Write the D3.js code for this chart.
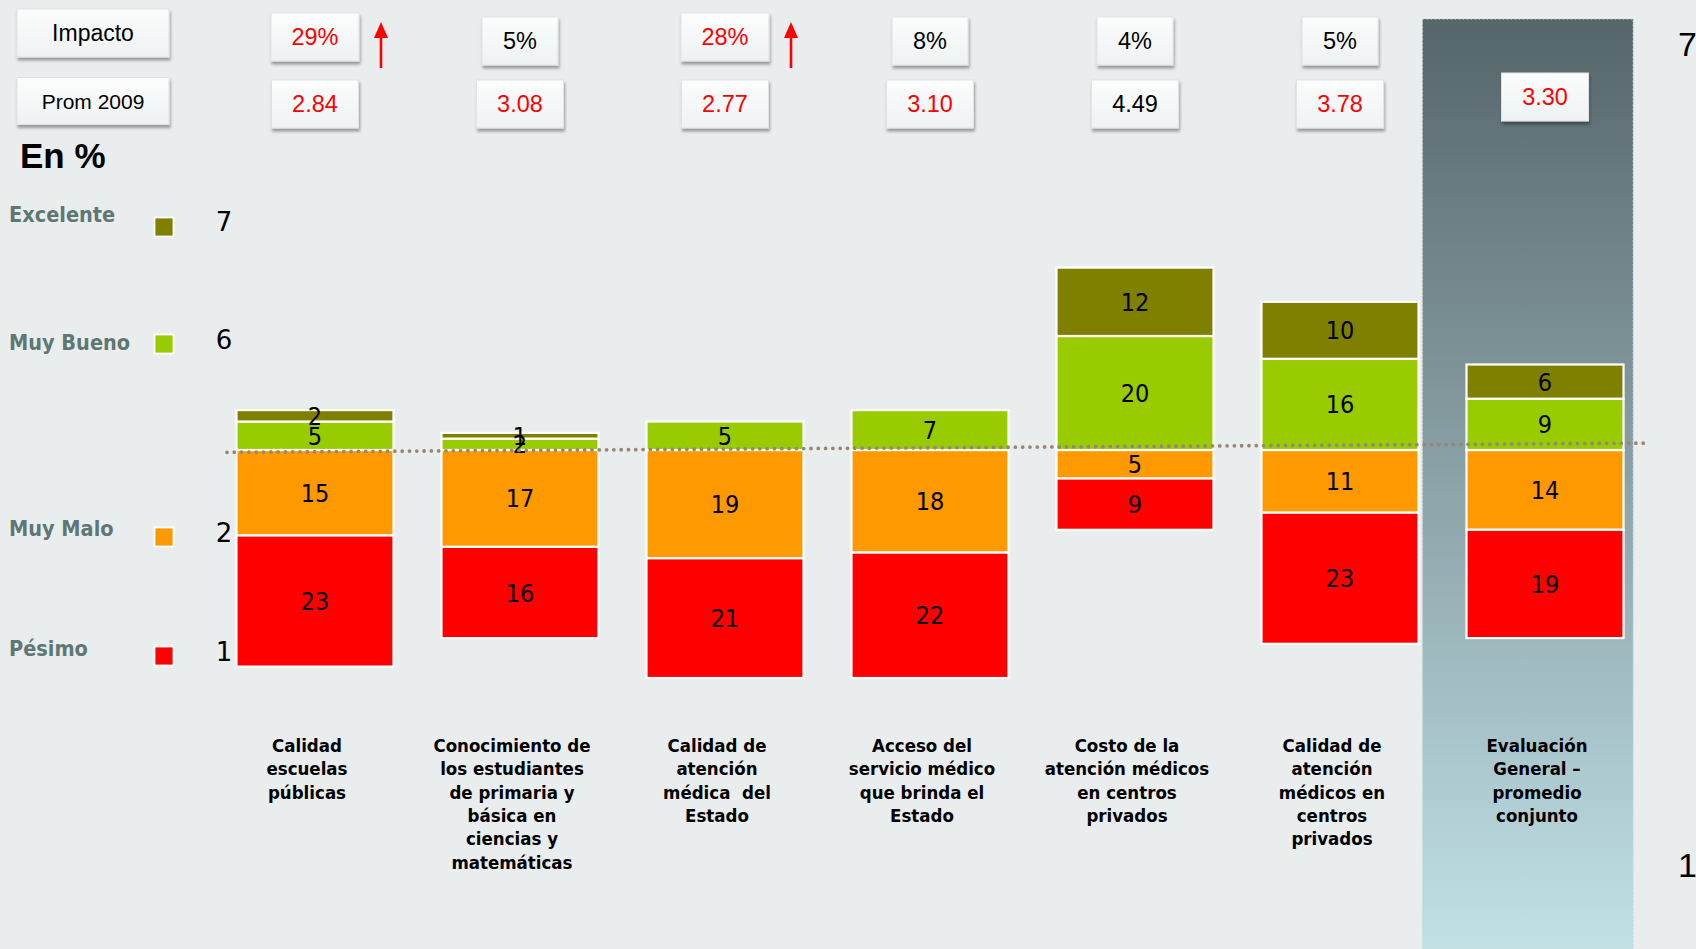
<!DOCTYPE html>
<html>
<head>
<meta charset="utf-8">
<script src="https://cdn.jsdelivr.net/npm/d3@7"></script>
<style>
  html, body { margin: 0; padding: 0; background: #e9edee; overflow: hidden; }
  svg { display: block; }
</style>
</head>
<body>
<div id="chart"></div>
<script>
// ---------------- DATA ----------------
const categories = [
  "Calidad\nescuelas\npúblicas",
  "Conocimiento de\nlos estudiantes\nde primaria y\nbásica en\nciencias y\nmatemáticas",
  "Calidad de\natención\nmédica  del\nEstado",
  "Acceso del\nservicio médico\nque brinda el\nEstado",
  "Costo de la\natención médicos\nen centros\nprivados",
  "Calidad de\natención\nmédicos en\ncentros\nprivados",
  "Evaluación\nGeneral –\npromedio\nconjunto"
];
const excelente = [2, 1, 0, 0, 12, 10, 6];
const muyBueno  = [5, 2, 5, 7, 20, 16, 9];
const muyMalo   = [15, 17, 19, 18, 5, 11, 14];
const pesimo    = [23, 16, 21, 22, 9, 23, 19];
const impacto   = [29, 5, 28, 8, 4, 5, null];
const prom2009  = [2.84, 3.08, 2.77, 3.10, 4.49, 3.78, 3.30];
const legendLabels = ["Excelente", "Muy Bueno", "Muy Malo", "Pésimo"];
const legendTicks  = ["7", "6", "2", "1"];
const scaleEnds    = ["7", "1"];

// ---------------- LAYOUT ----------------
const W = 1696, H = 949;
const colors = { excelente: "#808000", muyBueno: "#99cc00", muyMalo: "#ff9900", pesimo: "#ff0000" };
const legendKeys = ["excelente", "muyBueno", "muyMalo", "pesimo"];
const legendRowY = [222, 340, 533, 652];
const legendTextY = [214, 342, 528, 648];
const legendBoxY = [227, 344, 537, 656];
const labelFont = "'DejaVu Sans Condensed', 'DejaVu Sans', sans-serif";

const svg = d3.select("#chart").append("svg").attr("width", W).attr("height", H);
const defs = svg.append("defs");

const colGrad = defs.append("linearGradient").attr("id", "colGrad")
  .attr("x1", 0).attr("y1", 0).attr("x2", 0).attr("y2", 1);
colGrad.append("stop").attr("offset", "0%").attr("stop-color", "#55656a");
colGrad.append("stop").attr("offset", "100%").attr("stop-color", "#c1e1e7");

const boxGrad = defs.append("linearGradient").attr("id", "boxGrad")
  .attr("x1", 0).attr("y1", 0).attr("x2", 0).attr("y2", 1);
boxGrad.append("stop").attr("offset", "0%").attr("stop-color", "#fcfdfd");
boxGrad.append("stop").attr("offset", "100%").attr("stop-color", "#eef2f3");

const shadow = defs.append("filter").attr("id", "shadow")
  .attr("x", "-20%").attr("y", "-20%").attr("width", "150%").attr("height", "160%");
shadow.append("feDropShadow").attr("dx", 1).attr("dy", 3).attr("stdDeviation", 1.8)
  .attr("flood-color", "#000").attr("flood-opacity", 0.35);

svg.append("rect").attr("width", W).attr("height", H).attr("fill", "#e9edee");

// scales
const x = d3.scaleBand().domain(categories).range([188.5, 1671.5]).paddingInner(0.234).paddingOuter(0.234);
const pxPerPct = 5.7, base = 450;
const y = d3.scaleLinear().domain([-40, 45]).range([base + 40 * pxPerPct, base - 45 * pxPerPct]);

// highlighted overall column
const lastCat = categories[categories.length - 1];
const colX0 = x(lastCat) - x.step() * 0.215;
const colX1 = x(lastCat) + x.bandwidth() + x.step() * 0.047;
svg.append("rect")
  .attr("x", colX0).attr("y", 19).attr("width", colX1 - colX0).attr("height", H - 19)
  .attr("fill", "url(#colGrad)")
  .attr("stroke", "#d2d6d6").attr("stroke-width", 1).attr("stroke-dasharray", "2,2");

// ---------------- STACKED BARS ----------------
const table = categories.map((c, i) => ({
  cat: c, muyMalo: -muyMalo[i], pesimo: -pesimo[i], muyBueno: muyBueno[i], excelente: excelente[i]
}));
const keys = ["muyMalo", "pesimo", "muyBueno", "excelente"];
const series = d3.stack().keys(keys).offset(d3.stackOffsetDiverging)(table);

const gBars = svg.append("g");
series.forEach(s => {
  const pts = s.filter(d => d[1] !== d[0]);
  gBars.selectAll(null).data(pts).enter().append("rect")
    .attr("x", d => x(d.data.cat))
    .attr("y", d => y(Math.max(d[0], d[1])))
    .attr("width", x.bandwidth())
    .attr("height", d => Math.abs(y(d[0]) - y(d[1])))
    .attr("fill", colors[s.key])
    .attr("stroke", "#ffffff").attr("stroke-width", 2.2);
});
series.forEach(s => {
  const pts = s.filter(d => d[1] !== d[0]);
  gBars.selectAll(null).data(pts).enter().append("text")
    .attr("x", d => x(d.data.cat) + x.bandwidth() / 2)
    .attr("y", d => y((d[0] + d[1]) / 2))
    .attr("dy", "0.36em")
    .attr("text-anchor", "middle")
    .attr("font-family", labelFont)
    .attr("font-size", 25)
    .attr("fill", "#000")
    .text(d => Math.abs(d[1] - d[0]));
});

// dotted reference line (average)
const line = d3.line().x(d => d[0]).y(d => y(d[1]));
svg.append("path")
  .attr("d", line([[227, -0.4], [1644, 1.2]]))
  .attr("fill", "none").attr("stroke", "#978676").attr("stroke-width", 3.8)
  .attr("stroke-linecap", "round").attr("stroke-dasharray", "0,7.3");

// ---------------- CATEGORY LABELS ----------------
const gCat = svg.append("g");
const catShift = -8;
categories.forEach((c, i) => {
  const cx = x(c) + x.bandwidth() / 2 + catShift;
  const t = gCat.append("text")
    .attr("x", cx)
    .attr("y", 752)
    .attr("text-anchor", "middle")
    .attr("font-family", labelFont)
    .attr("font-weight", "bold")
    .attr("font-size", 18.5)
    .attr("fill", "#000");
  c.split("\n").forEach((ln, j) => {
    t.append("tspan").attr("x", cx).attr("dy", j === 0 ? 0 : 23.3)
      .attr("xml:space", "preserve").text(ln);
  });
});

// ---------------- LEGEND ----------------
const gLeg = svg.append("g");
legendLabels.forEach((lab, i) => {
  gLeg.append("text")
    .attr("x", 9).attr("y", legendTextY[i]).attr("dy", "0.36em")
    .attr("font-family", labelFont).attr("font-weight", "bold").attr("font-size", 21.5)
    .attr("fill", "#5f7773").text(lab);
  gLeg.append("rect")
    .attr("x", 154.5).attr("y", legendBoxY[i] - 9.5).attr("width", 19).attr("height", 19)
    .attr("fill", colors[legendKeys[i]]).attr("stroke", "#fff").attr("stroke-width", 1.8);
  gLeg.append("text")
    .attr("x", 224).attr("y", legendRowY[i]).attr("dy", "0.36em").attr("text-anchor", "middle")
    .attr("font-family", "'DejaVu Sans', sans-serif").attr("font-size", 26)
    .attr("fill", "#000").text(legendTicks[i]);
});

svg.append("text").attr("x", 20).attr("y", 168)
  .attr("font-family", "'Liberation Sans', Arial, sans-serif").attr("font-weight", "bold")
  .attr("font-size", 35).attr("fill", "#000").text("En %");

// right side scale ends
svg.append("text").attr("x", 1678).attr("y", 56)
  .attr("font-family", "'Liberation Sans', Arial, sans-serif").attr("font-size", 34).text(scaleEnds[0]);
svg.append("text").attr("x", 1678).attr("y", 877)
  .attr("font-family", "'Liberation Sans', Arial, sans-serif").attr("font-size", 34).text(scaleEnds[1]);

// ---------------- TOP BOXES ----------------
const boxFont = "'Liberation Sans', Arial, sans-serif";
function box(cx, cy, w, h, txt, color, size) {
  const g = svg.append("g");
  g.append("rect").attr("x", cx - w / 2).attr("y", cy - h / 2).attr("width", w).attr("height", h)
    .attr("fill", "url(#boxGrad)").attr("stroke", "#e0e4e5").attr("stroke-width", 1)
    .attr("filter", "url(#shadow)");
  g.append("text").attr("x", cx).attr("y", cy).attr("dy", "0.36em").attr("text-anchor", "middle")
    .attr("font-family", boxFont).attr("font-size", size || 23).attr("fill", color).text(txt);
  return g;
}
box(93, 33, 152, 48, "Impacto", "#000", 23);
box(93, 101, 152, 47, "Prom 2009", "#000", 21);

impacto.forEach((v, i) => {
  if (v == null) return;
  const cx = x(categories[i]) + x.bandwidth() / 2;
  const hi = v >= 20;
  const w = hi ? 88 : 76;
  box(cx, hi ? 37 : 41, w, 48, v + "%", hi ? "#ff0000" : "#000", 23.5);
  if (hi) {
    const ax = cx + w / 2 + 22;
    const yTop = 22;
    svg.append("line").attr("x1", ax).attr("y1", 68).attr("x2", ax).attr("y2", yTop + 12)
      .attr("stroke", "#ff0000").attr("stroke-width", 2.6);
    svg.append("path")
      .attr("d", `M${ax - 7},${yTop + 16} L${ax},${yTop} L${ax + 7},${yTop + 16} Z`)
      .attr("fill", "#ff0000");
  }
});
prom2009.forEach((v, i) => {
  const cx = x(categories[i]) + x.bandwidth() / 2;
  const last = i === prom2009.length - 1;
  box(cx, last ? 97 : 104, 87, 48, v.toFixed(2), v < 4 ? "#ff0000" : "#000", 23.5);
});
</script>
</body>
</html>
